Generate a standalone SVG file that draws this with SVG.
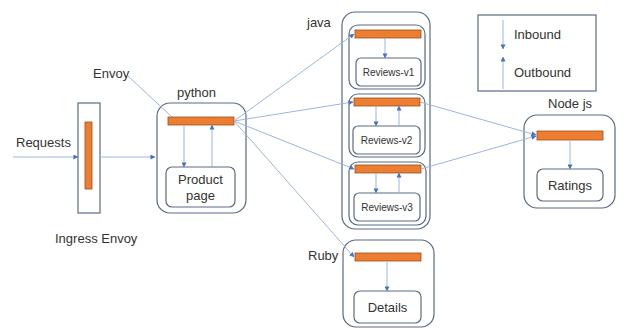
<svg xmlns="http://www.w3.org/2000/svg" width="632" height="329" viewBox="0 0 632 329">
<defs>
<marker id="ah" viewBox="0 0 6 6" refX="5.5" refY="3" markerWidth="5" markerHeight="5" orient="auto" markerUnits="userSpaceOnUse">
<path d="M0,0 L6,3 L0,6 z" fill="#4472c4"/>
</marker>
<style>
text{font-family:"Liberation Sans","Noto Sans",sans-serif;fill:#333;font-size:13px}
.sm{font-size:10px}
.box{fill:#fff;stroke:#5a6a84;stroke-width:1.2}
.bar{fill:#ed7d31;stroke:#9c4f1c;stroke-width:0.8}
.ln{fill:none;stroke:#9db5e0;stroke-width:1}
.ar{fill:none;stroke:#9db5e0;stroke-width:1;marker-end:url(#ah)}
</style>
</defs>
<rect width="632" height="329" fill="#fff"/>

<g id="labels">
<text x="16" y="147">Requests</text>
<text x="93" y="78">Envoy</text>
<text x="177" y="97">python</text>
<text x="55" y="243">Ingress Envoy</text>
<text x="307" y="27">java</text>
<text x="308" y="260">Ruby</text>
<text x="548" y="108">Node js</text>
</g>

<g id="ingress">
<rect class="box" x="78" y="103" width="22" height="110"/>
<rect class="bar" x="85" y="122" width="7" height="67"/>
</g>

<g id="python">
<rect class="box" x="157" y="103" width="89" height="110" rx="13"/>
<rect class="bar" x="168" y="117" width="66" height="8"/>
<rect class="box" x="166" y="167" width="69" height="40" rx="6"/>
<text x="200.5" y="184" text-anchor="middle">Product</text>
<text x="200.5" y="200" text-anchor="middle">page</text>
<line class="ar" x1="184" y1="125" x2="184" y2="167"/>
<line class="ar" x1="212" y1="167" x2="212" y2="125"/>
</g>

<g id="java">
<rect class="box" x="342" y="12" width="88" height="217" rx="13"/>
</g>

<g id="reviews-v1">
<rect class="box" x="349" y="25" width="76" height="64" rx="9"/>
<rect class="bar" x="355" y="30" width="66" height="8"/>
<rect class="box" x="356" y="58" width="65" height="28" rx="5"/>
<text class="sm" x="388.5" y="76" text-anchor="middle">Reviews-v1</text>
<line class="ar" x1="385" y1="38" x2="385" y2="58"/>
</g>

<g id="reviews-v2">
<rect class="box" x="349" y="94" width="76" height="63" rx="9"/>
<rect class="bar" x="354" y="98" width="66" height="8"/>
<rect class="box" x="353" y="126" width="67" height="28" rx="5"/>
<text class="sm" x="386.5" y="144" text-anchor="middle">Reviews-v2</text>
<line class="ar" x1="376" y1="106" x2="376" y2="126"/>
<line class="ar" x1="399" y1="126" x2="399" y2="106"/>
</g>

<g id="reviews-v3">
<rect class="box" x="349" y="162" width="77" height="63" rx="9"/>
<rect class="bar" x="355" y="165" width="66" height="8"/>
<rect class="box" x="354" y="193" width="66" height="28" rx="5"/>
<text class="sm" x="387" y="211" text-anchor="middle">Reviews-v3</text>
<line class="ar" x1="376" y1="173" x2="376" y2="193"/>
<line class="ar" x1="399" y1="193" x2="399" y2="173"/>
</g>

<g id="ruby">
<rect class="box" x="343" y="240" width="91" height="87" rx="13"/>
<rect class="bar" x="355" y="253" width="66" height="8"/>
<rect class="box" x="354" y="291" width="67" height="32" rx="6"/>
<text x="387.5" y="312" text-anchor="middle">Details</text>
<line class="ar" x1="387" y1="261" x2="387" y2="291"/>
</g>

<g id="nodejs">
<rect class="box" x="524" y="115" width="91" height="93" rx="13"/>
<rect class="bar" x="537" y="131" width="66" height="9"/>
<rect class="box" x="537" y="169" width="66" height="32" rx="6"/>
<text x="570" y="190" text-anchor="middle">Ratings</text>
<line class="ar" x1="570" y1="140" x2="570" y2="169"/>
</g>

<g id="legend">
<rect class="box" x="478" y="15" width="118" height="76"/>
<line class="ar" x1="503" y1="20" x2="503" y2="49"/>
<line class="ar" x1="503" y1="89" x2="503" y2="57"/>
<text x="514" y="39">Inbound</text>
<text x="514" y="77">Outbound</text>
</g>

<g id="connectors">
<line class="ar" x1="13" y1="157" x2="78" y2="157"/>
<line class="ar" x1="100" y1="157" x2="155" y2="157"/>
<line class="ln" x1="128" y1="76" x2="172" y2="117"/>
<line class="ar" x1="234" y1="121" x2="354" y2="34"/>
<line class="ar" x1="234" y1="121" x2="353" y2="102"/>
<line class="ar" x1="234" y1="121" x2="354" y2="169"/>
<line class="ar" x1="234" y1="121" x2="354" y2="257"/>
<line class="ar" x1="420" y1="102" x2="536" y2="135"/>
<line class="ar" x1="421" y1="169" x2="536" y2="136"/>
</g>
</svg>
